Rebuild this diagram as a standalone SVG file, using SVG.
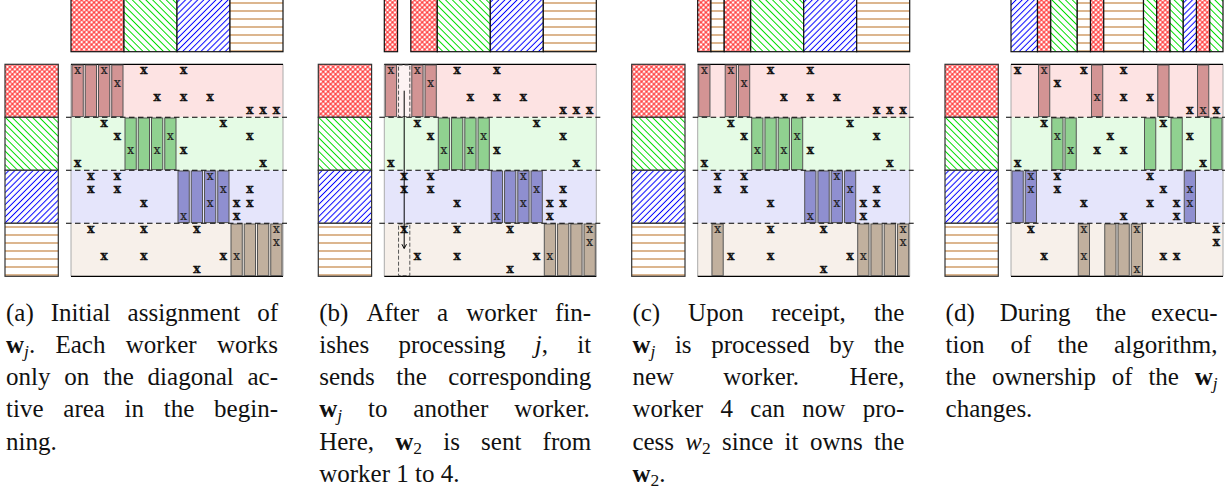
<svg xmlns="http://www.w3.org/2000/svg" width="1225" height="488" viewBox="0 0 1225 488">
<defs>
<pattern id="pR" patternUnits="userSpaceOnUse" width="3.5" height="3.5" patternTransform="rotate(45)"><rect width="3.5" height="3.5" fill="#fff"/><path d="M1.75,0V3.5M0,1.75H3.5" stroke="#ff1010" stroke-width="0.95"/></pattern>
<pattern id="pG" patternUnits="userSpaceOnUse" width="4.8" height="4.8" patternTransform="rotate(-45)"><rect width="4.8" height="4.8" fill="#fff"/><path d="M2.4,0V4.8" stroke="#00dd00" stroke-width="1"/></pattern>
<pattern id="pB" patternUnits="userSpaceOnUse" width="4.3" height="4.3" patternTransform="rotate(45)"><rect width="4.3" height="4.3" fill="#fff"/><path d="M2.15,0V4.3" stroke="#0000ff" stroke-width="1"/></pattern>
<pattern id="pO" patternUnits="userSpaceOnUse" width="8" height="8"><rect width="8" height="8" fill="#fff"/><path d="M0,3H8" stroke="#d4a373" stroke-width="1.6"/></pattern>
<style>
.tb{stroke:#111;stroke-width:1.2}
.lc{stroke:#333;stroke-width:1.2}
.hr{fill:url(#pR)}.hg{fill:url(#pG)}.hb{fill:url(#pB)}.ho{fill:url(#pO)}
.bk0{fill:#fde3e3}.bk1{fill:#e5fbe5}.bk2{fill:#e5e5fb}.bk3{fill:#f7f0ea}
.side{stroke:#aaa;stroke-width:1}
.edge{stroke:#000;stroke-width:1.2}
.br,.bg,.bb,.bo{stroke:#555;stroke-width:1}
.br{fill:#d39494}.bg{fill:#90d190}.bb{fill:#8f8fd0}.bo{fill:#c1b09e}
.dl{stroke:#000;stroke-width:1.1;stroke-dasharray:5.5 3.5;fill:none}
.xm,.xi{font-family:"DejaVu Serif",serif;font-size:12px;text-anchor:middle}
.xm{font-weight:bold;fill:#111;stroke:#111;stroke-width:0.35}
.xi{font-weight:normal;fill:#222;stroke:#222;stroke-width:0.2}
.cap{font-family:"Liberation Serif","Times New Roman",serif;font-size:25px;fill:#111}
.mv{stroke:#555;stroke-width:1;stroke-dasharray:4 2}
.arr{stroke:#000;stroke-width:1;fill:none}
</style>
</defs>
<rect width="1225" height="488" fill="#fff"/>

<!-- PANEL A -->
<g id="panel-a">
<g id="a-top">
<rect class="tb hr" x="71" y="-1" width="53" height="52.7"/>
<rect class="tb hg" x="124" y="-1" width="53" height="52.7"/>
<rect class="tb hb" x="177" y="-1" width="53" height="52.7"/>
<rect class="tb ho" x="230" y="-1" width="53" height="52.7"/>
</g>
<g id="a-left">
<rect class="lc hr" x="5" y="64.3" width="53.3" height="53"/>
<rect class="lc hg" x="5" y="117.3" width="53.3" height="53"/>
<rect class="lc hb" x="5" y="170.3" width="53.3" height="53"/>
<rect class="lc ho" x="5" y="223.3" width="53.3" height="53"/>
</g>
<g id="a-matrix">
<rect class="bk0" x="71" y="64.3" width="212" height="53"/>
<rect class="bk1" x="71" y="117.3" width="212" height="53"/>
<rect class="bk2" x="71" y="170.3" width="212" height="53"/>
<rect class="bk3" x="71" y="223.3" width="212" height="53"/>
<path class="side" d="M71,64.3V276.3M283,64.3V276.3"/>
<path class="edge" d="M71,64.3H283M71,276.3H283"/>
<rect class="br" x="72" y="65" width="11.25" height="51.6"/>
<rect class="br" x="85.25" y="65" width="11.25" height="51.6"/>
<rect class="br" x="98.5" y="65" width="11.25" height="51.6"/>
<rect class="br" x="111.75" y="65" width="11.25" height="51.6"/>
<rect class="bg" x="125" y="118" width="11.25" height="51.6"/>
<rect class="bg" x="138.25" y="118" width="11.25" height="51.6"/>
<rect class="bg" x="151.5" y="118" width="11.25" height="51.6"/>
<rect class="bg" x="164.75" y="118" width="11.25" height="51.6"/>
<rect class="bb" x="178" y="171" width="11.25" height="51.6"/>
<rect class="bb" x="191.25" y="171" width="11.25" height="51.6"/>
<rect class="bb" x="204.5" y="171" width="11.25" height="51.6"/>
<rect class="bb" x="217.75" y="171" width="11.25" height="51.6"/>
<rect class="bo" x="231" y="224" width="11.25" height="51.6"/>
<rect class="bo" x="244.25" y="224" width="11.25" height="51.6"/>
<rect class="bo" x="257.5" y="224" width="11.25" height="51.6"/>
<rect class="bo" x="270.75" y="224" width="11.25" height="51.6"/>
<path class="dl" d="M66,117.3H287M66,170.3H287M66,223.3H287"/>
<text class="xi" x="77.6" y="74.1">x</text>
<text class="xi" x="104.1" y="74.1">x</text>
<text class="xi" x="117.4" y="87.4">x</text>
<text class="xm" x="143.9" y="74.1">x</text>
<text class="xm" x="183.6" y="74.1">x</text>
<text class="xm" x="157.1" y="100.6">x</text>
<text class="xm" x="183.6" y="100.6">x</text>
<text class="xm" x="210.1" y="100.6">x</text>
<text class="xm" x="249.9" y="113.9">x</text>
<text class="xm" x="263.1" y="113.9">x</text>
<text class="xm" x="276.4" y="113.9">x</text>
<text class="xm" x="104.1" y="127.1">x</text>
<text class="xm" x="117.4" y="140.4">x</text>
<text class="xm" x="223.4" y="127.1">x</text>
<text class="xm" x="249.9" y="140.4">x</text>
<text class="xi" x="130.6" y="153.6">x</text>
<text class="xi" x="157.1" y="153.6">x</text>
<text class="xm" x="183.6" y="153.6">x</text>
<text class="xm" x="77.6" y="166.9">x</text>
<text class="xm" x="263.1" y="166.9">x</text>
<text class="xi" x="170.4" y="140.4">x</text>
<text class="xm" x="90.9" y="180.1">x</text>
<text class="xm" x="117.4" y="180.1">x</text>
<text class="xm" x="90.9" y="193.4">x</text>
<text class="xm" x="117.4" y="193.4">x</text>
<text class="xm" x="143.9" y="206.6">x</text>
<text class="xi" x="210.1" y="180.1">x</text>
<text class="xi" x="223.4" y="193.4">x</text>
<text class="xi" x="210.1" y="206.6">x</text>
<text class="xm" x="236.6" y="206.6">x</text>
<text class="xm" x="249.9" y="206.6">x</text>
<text class="xm" x="249.9" y="193.4">x</text>
<text class="xi" x="183.6" y="219.9">x</text>
<text class="xm" x="236.6" y="219.9">x</text>
<text class="xm" x="90.9" y="233.1">x</text>
<text class="xm" x="143.9" y="233.1">x</text>
<text class="xm" x="196.9" y="233.1">x</text>
<text class="xi" x="276.4" y="233.1">x</text>
<text class="xi" x="276.4" y="246.4">x</text>
<text class="xm" x="104.1" y="259.6">x</text>
<text class="xm" x="143.9" y="259.6">x</text>
<text class="xm" x="223.4" y="259.6">x</text>
<text class="xi" x="236.6" y="259.6">x</text>
<text class="xm" x="196.9" y="272.9">x</text>
</g>
</g>

<!-- PANEL B -->
<g id="panel-b" transform="translate(313.3,0)">
<g id="b-top">
<rect class="tb hr" x="71" y="-1" width="13.25" height="52.7"/>
<rect class="tb hr" x="97.5" y="-1" width="26.5" height="52.7"/>
<rect class="tb hg" x="124" y="-1" width="53" height="52.7"/>
<rect class="tb hb" x="177" y="-1" width="53" height="52.7"/>
<rect class="tb ho" x="230" y="-1" width="53" height="52.7"/>
</g>
<g id="b-left">
<rect class="lc hr" x="5" y="64.3" width="53.3" height="53"/>
<rect class="lc hg" x="5" y="117.3" width="53.3" height="53"/>
<rect class="lc hb" x="5" y="170.3" width="53.3" height="53"/>
<rect class="lc ho" x="5" y="223.3" width="53.3" height="53"/>
</g>
<g id="b-matrix">
<rect class="bk0" x="71" y="64.3" width="212" height="53"/>
<rect class="bk1" x="71" y="117.3" width="212" height="53"/>
<rect class="bk2" x="71" y="170.3" width="212" height="53"/>
<rect class="bk3" x="71" y="223.3" width="212" height="53"/>
<path class="side" d="M71,64.3V276.3M283,64.3V276.3"/>
<path class="edge" d="M71,64.3H283M71,276.3H283"/>
<rect class="br" x="72" y="65" width="11.25" height="51.6"/>
<rect class="mv" x="85.25" y="65" width="11.25" height="51.6" fill="#fdf3f3"/>
<rect class="br" x="98.5" y="65" width="11.25" height="51.6"/>
<rect class="br" x="111.75" y="65" width="11.25" height="51.6"/>
<rect class="bg" x="125" y="118" width="11.25" height="51.6"/>
<rect class="bg" x="138.25" y="118" width="11.25" height="51.6"/>
<rect class="bg" x="151.5" y="118" width="11.25" height="51.6"/>
<rect class="bg" x="164.75" y="118" width="11.25" height="51.6"/>
<rect class="bb" x="178" y="171" width="11.25" height="51.6"/>
<rect class="bb" x="191.25" y="171" width="11.25" height="51.6"/>
<rect class="bb" x="204.5" y="171" width="11.25" height="51.6"/>
<rect class="bb" x="217.75" y="171" width="11.25" height="51.6"/>
<rect class="mv" x="85.25" y="224" width="11.25" height="51.6" fill="none"/>
<rect class="bo" x="231" y="224" width="11.25" height="51.6"/>
<rect class="bo" x="244.25" y="224" width="11.25" height="51.6"/>
<rect class="bo" x="257.5" y="224" width="11.25" height="51.6"/>
<rect class="bo" x="270.75" y="224" width="11.25" height="51.6"/>
<path class="dl" d="M66,117.3H287M66,170.3H287M66,223.3H287"/>
<text class="xi" x="77.6" y="74.1">x</text>
<text class="xi" x="104.1" y="74.1">x</text>
<text class="xi" x="117.4" y="87.4">x</text>
<text class="xm" x="143.9" y="74.1">x</text>
<text class="xm" x="183.6" y="74.1">x</text>
<text class="xm" x="157.1" y="100.6">x</text>
<text class="xm" x="183.6" y="100.6">x</text>
<text class="xm" x="210.1" y="100.6">x</text>
<text class="xm" x="249.9" y="113.9">x</text>
<text class="xm" x="263.1" y="113.9">x</text>
<text class="xm" x="276.4" y="113.9">x</text>
<text class="xm" x="104.1" y="127.1">x</text>
<text class="xm" x="117.4" y="140.4">x</text>
<text class="xm" x="223.4" y="127.1">x</text>
<text class="xm" x="249.9" y="140.4">x</text>
<text class="xi" x="130.6" y="153.6">x</text>
<text class="xi" x="157.1" y="153.6">x</text>
<text class="xm" x="183.6" y="153.6">x</text>
<text class="xm" x="77.6" y="166.9">x</text>
<text class="xm" x="263.1" y="166.9">x</text>
<text class="xi" x="170.4" y="140.4">x</text>
<text class="xm" x="90.9" y="180.1">x</text>
<text class="xm" x="117.4" y="180.1">x</text>
<text class="xm" x="90.9" y="193.4">x</text>
<text class="xm" x="117.4" y="193.4">x</text>
<text class="xm" x="143.9" y="206.6">x</text>
<text class="xi" x="210.1" y="180.1">x</text>
<text class="xi" x="223.4" y="193.4">x</text>
<text class="xi" x="210.1" y="206.6">x</text>
<text class="xm" x="236.6" y="206.6">x</text>
<text class="xm" x="249.9" y="206.6">x</text>
<text class="xm" x="249.9" y="193.4">x</text>
<text class="xi" x="183.6" y="219.9">x</text>
<text class="xm" x="236.6" y="219.9">x</text>
<text class="xm" x="90.9" y="233.1">x</text>
<text class="xm" x="143.9" y="233.1">x</text>
<text class="xm" x="196.9" y="233.1">x</text>
<text class="xi" x="276.4" y="233.1">x</text>
<text class="xi" x="276.4" y="246.4">x</text>
<text class="xm" x="104.1" y="259.6">x</text>
<text class="xm" x="143.9" y="259.6">x</text>
<text class="xm" x="223.4" y="259.6">x</text>
<text class="xi" x="236.6" y="259.6">x</text>
<text class="xm" x="196.9" y="272.9">x</text>
</g>
</g>

<!-- PANEL C -->
<g id="panel-c" transform="translate(626.7,0)">
<g id="c-top">
<rect class="tb hr" x="71" y="-1" width="13.25" height="52.7"/>
<rect class="tb ho" x="84.25" y="-1" width="13.25" height="52.7"/>
<rect class="tb hr" x="97.5" y="-1" width="26.5" height="52.7"/>
<rect class="tb hg" x="124" y="-1" width="53" height="52.7"/>
<rect class="tb hb" x="177" y="-1" width="53" height="52.7"/>
<rect class="tb ho" x="230" y="-1" width="53" height="52.7"/>
</g>
<g id="c-left">
<rect class="lc hr" x="5" y="64.3" width="53.3" height="53"/>
<rect class="lc hg" x="5" y="117.3" width="53.3" height="53"/>
<rect class="lc hb" x="5" y="170.3" width="53.3" height="53"/>
<rect class="lc ho" x="5" y="223.3" width="53.3" height="53"/>
</g>
<g id="c-matrix">
<rect class="bk0" x="71" y="64.3" width="212" height="53"/>
<rect class="bk1" x="71" y="117.3" width="212" height="53"/>
<rect class="bk2" x="71" y="170.3" width="212" height="53"/>
<rect class="bk3" x="71" y="223.3" width="212" height="53"/>
<path class="side" d="M71,64.3V276.3M283,64.3V276.3"/>
<path class="edge" d="M71,64.3H283M71,276.3H283"/>
<rect class="br" x="72" y="65" width="11.25" height="51.6"/>
<rect class="br" x="98.5" y="65" width="11.25" height="51.6"/>
<rect class="br" x="111.75" y="65" width="11.25" height="51.6"/>
<rect class="bg" x="125" y="118" width="11.25" height="51.6"/>
<rect class="bg" x="138.25" y="118" width="11.25" height="51.6"/>
<rect class="bg" x="151.5" y="118" width="11.25" height="51.6"/>
<rect class="bg" x="164.75" y="118" width="11.25" height="51.6"/>
<rect class="bb" x="178" y="171" width="11.25" height="51.6"/>
<rect class="bb" x="191.25" y="171" width="11.25" height="51.6"/>
<rect class="bb" x="204.5" y="171" width="11.25" height="51.6"/>
<rect class="bb" x="217.75" y="171" width="11.25" height="51.6"/>
<rect class="bo" x="85.25" y="224" width="11.25" height="51.6"/>
<rect class="bo" x="231" y="224" width="11.25" height="51.6"/>
<rect class="bo" x="244.25" y="224" width="11.25" height="51.6"/>
<rect class="bo" x="257.5" y="224" width="11.25" height="51.6"/>
<rect class="bo" x="270.75" y="224" width="11.25" height="51.6"/>
<path class="dl" d="M66,117.3H287M66,170.3H287M66,223.3H287"/>
<text class="xi" x="77.6" y="74.1">x</text>
<text class="xi" x="104.1" y="74.1">x</text>
<text class="xi" x="117.4" y="87.4">x</text>
<text class="xm" x="143.9" y="74.1">x</text>
<text class="xm" x="183.6" y="74.1">x</text>
<text class="xm" x="157.1" y="100.6">x</text>
<text class="xm" x="183.6" y="100.6">x</text>
<text class="xm" x="210.1" y="100.6">x</text>
<text class="xm" x="249.9" y="113.9">x</text>
<text class="xm" x="263.1" y="113.9">x</text>
<text class="xm" x="276.4" y="113.9">x</text>
<text class="xm" x="104.1" y="127.1">x</text>
<text class="xm" x="117.4" y="140.4">x</text>
<text class="xm" x="223.4" y="127.1">x</text>
<text class="xm" x="249.9" y="140.4">x</text>
<text class="xi" x="130.6" y="153.6">x</text>
<text class="xi" x="157.1" y="153.6">x</text>
<text class="xm" x="183.6" y="153.6">x</text>
<text class="xm" x="77.6" y="166.9">x</text>
<text class="xm" x="263.1" y="166.9">x</text>
<text class="xi" x="170.4" y="140.4">x</text>
<text class="xm" x="90.9" y="180.1">x</text>
<text class="xm" x="117.4" y="180.1">x</text>
<text class="xm" x="90.9" y="193.4">x</text>
<text class="xm" x="117.4" y="193.4">x</text>
<text class="xm" x="143.9" y="206.6">x</text>
<text class="xi" x="210.1" y="180.1">x</text>
<text class="xi" x="223.4" y="193.4">x</text>
<text class="xi" x="210.1" y="206.6">x</text>
<text class="xm" x="236.6" y="206.6">x</text>
<text class="xm" x="249.9" y="206.6">x</text>
<text class="xm" x="249.9" y="193.4">x</text>
<text class="xi" x="183.6" y="219.9">x</text>
<text class="xm" x="236.6" y="219.9">x</text>
<text class="xi" x="90.9" y="233.1">x</text>
<text class="xm" x="143.9" y="233.1">x</text>
<text class="xm" x="196.9" y="233.1">x</text>
<text class="xi" x="276.4" y="233.1">x</text>
<text class="xi" x="276.4" y="246.4">x</text>
<text class="xm" x="104.1" y="259.6">x</text>
<text class="xm" x="143.9" y="259.6">x</text>
<text class="xm" x="223.4" y="259.6">x</text>
<text class="xi" x="236.6" y="259.6">x</text>
<text class="xm" x="196.9" y="272.9">x</text>
</g>
</g>

<!-- PANEL D -->
<g id="panel-d" transform="translate(940,0)">
<g id="d-top">
<rect class="tb hb" x="71" y="-1" width="26.5" height="52.7"/>
<rect class="tb hr" x="97.5" y="-1" width="13.25" height="52.7"/>
<rect class="tb hg" x="110.75" y="-1" width="26.5" height="52.7"/>
<rect class="tb ho" x="137.25" y="-1" width="13.25" height="52.7"/>
<rect class="tb hr" x="150.5" y="-1" width="13.25" height="52.7"/>
<rect class="tb ho" x="163.75" y="-1" width="39.75" height="52.7"/>
<rect class="tb hg" x="203.5" y="-1" width="13.25" height="52.7"/>
<rect class="tb hr" x="216.75" y="-1" width="13.25" height="52.7"/>
<rect class="tb hg" x="230" y="-1" width="13.25" height="52.7"/>
<rect class="tb hb" x="243.25" y="-1" width="13.25" height="52.7"/>
<rect class="tb hr" x="256.5" y="-1" width="13.25" height="52.7"/>
<rect class="tb hg" x="269.75" y="-1" width="13.25" height="52.7"/>
</g>
<g id="d-left">
<rect class="lc hr" x="5" y="64.3" width="53.3" height="53"/>
<rect class="lc hg" x="5" y="117.3" width="53.3" height="53"/>
<rect class="lc hb" x="5" y="170.3" width="53.3" height="53"/>
<rect class="lc ho" x="5" y="223.3" width="53.3" height="53"/>
</g>
<g id="d-matrix">
<rect class="bk0" x="71" y="64.3" width="212" height="53"/>
<rect class="bk1" x="71" y="117.3" width="212" height="53"/>
<rect class="bk2" x="71" y="170.3" width="212" height="53"/>
<rect class="bk3" x="71" y="223.3" width="212" height="53"/>
<path class="side" d="M71,64.3V276.3M283,64.3V276.3"/>
<path class="edge" d="M71,64.3H283M71,276.3H283"/>
<rect class="br" x="98.5" y="65" width="11.25" height="51.6"/>
<rect class="br" x="151.5" y="65" width="11.25" height="51.6"/>
<rect class="br" x="217.75" y="65" width="11.25" height="51.6"/>
<rect class="br" x="257.5" y="65" width="11.25" height="51.6"/>
<rect class="bg" x="111.75" y="118" width="11.25" height="51.6"/>
<rect class="bg" x="125" y="118" width="11.25" height="51.6"/>
<rect class="bg" x="204.5" y="118" width="11.25" height="51.6"/>
<rect class="bg" x="231" y="118" width="11.25" height="51.6"/>
<rect class="bg" x="270.75" y="118" width="11.25" height="51.6"/>
<rect class="bb" x="72" y="171" width="11.25" height="51.6"/>
<rect class="bb" x="85.25" y="171" width="11.25" height="51.6"/>
<rect class="bb" x="244.25" y="171" width="11.25" height="51.6"/>
<rect class="bo" x="138.25" y="224" width="11.25" height="51.6"/>
<rect class="bo" x="164.75" y="224" width="11.25" height="51.6"/>
<rect class="bo" x="178" y="224" width="11.25" height="51.6"/>
<rect class="bo" x="191.25" y="224" width="11.25" height="51.6"/>
<path class="dl" d="M66,117.3H287M66,170.3H287M66,223.3H287"/>
<text class="xm" x="77.6" y="74.1">x</text>
<text class="xi" x="104.1" y="74.1">x</text>
<text class="xm" x="117.4" y="87.4">x</text>
<text class="xm" x="143.9" y="74.1">x</text>
<text class="xm" x="183.6" y="74.1">x</text>
<text class="xi" x="157.1" y="100.6">x</text>
<text class="xm" x="183.6" y="100.6">x</text>
<text class="xm" x="210.1" y="100.6">x</text>
<text class="xm" x="249.9" y="113.9">x</text>
<text class="xi" x="263.1" y="113.9">x</text>
<text class="xm" x="276.4" y="113.9">x</text>
<text class="xm" x="104.1" y="127.1">x</text>
<text class="xi" x="117.4" y="140.4">x</text>
<text class="xm" x="223.4" y="127.1">x</text>
<text class="xm" x="249.9" y="140.4">x</text>
<text class="xi" x="130.6" y="153.6">x</text>
<text class="xm" x="157.1" y="153.6">x</text>
<text class="xm" x="183.6" y="153.6">x</text>
<text class="xm" x="77.6" y="166.9">x</text>
<text class="xm" x="263.1" y="166.9">x</text>
<text class="xm" x="170.4" y="140.4">x</text>
<text class="xi" x="90.9" y="180.1">x</text>
<text class="xm" x="117.4" y="180.1">x</text>
<text class="xi" x="90.9" y="193.4">x</text>
<text class="xm" x="117.4" y="193.4">x</text>
<text class="xm" x="143.9" y="206.6">x</text>
<text class="xm" x="210.1" y="180.1">x</text>
<text class="xm" x="223.4" y="193.4">x</text>
<text class="xm" x="210.1" y="206.6">x</text>
<text class="xm" x="236.6" y="206.6">x</text>
<text class="xi" x="249.9" y="206.6">x</text>
<text class="xi" x="249.9" y="193.4">x</text>
<text class="xm" x="183.6" y="219.9">x</text>
<text class="xm" x="236.6" y="219.9">x</text>
<text class="xm" x="90.9" y="233.1">x</text>
<text class="xi" x="143.9" y="233.1">x</text>
<text class="xi" x="196.9" y="233.1">x</text>
<text class="xm" x="276.4" y="233.1">x</text>
<text class="xm" x="276.4" y="246.4">x</text>
<text class="xm" x="104.1" y="259.6">x</text>
<text class="xi" x="143.9" y="259.6">x</text>
<text class="xm" x="223.4" y="259.6">x</text>
<text class="xm" x="236.6" y="259.6">x</text>
<text class="xi" x="196.9" y="272.9">x</text>
</g>
</g>

<g id="connectors">
<path class="arr" d="M404.2,90.7V248.3"/>
<path class="arr" d="M401.9,244.2L404.2,248.5L406.5,244.2"/>
</g>

<g id="captions">
<g id="caption-a">
<text class="cap" y="320.7"><tspan x="6">(a)</tspan> <tspan x="50.8">Initial</tspan> <tspan x="127.6">assignment</tspan> <tspan x="257.2">of</tspan></text>
<text class="cap" y="352.9"><tspan x="6" font-weight="bold">w</tspan><tspan font-style="italic" font-size="17.5" dy="4">j</tspan><tspan dy="-4">.</tspan> <tspan x="55.5">Each</tspan> <tspan x="125.8">worker</tspan> <tspan x="216.9">works</tspan></text>
<text class="cap" y="385.1"><tspan x="6">only</tspan> <tspan x="64.3">on</tspan> <tspan x="103.2">the</tspan> <tspan x="147.6">diagonal</tspan> <tspan x="247.5">ac-</tspan></text>
<text class="cap" y="417.3"><tspan x="6">tive</tspan> <tspan x="63.3">area</tspan> <tspan x="124.6">in</tspan> <tspan x="163.8">the</tspan> <tspan x="214.1">begin-</tspan></text>
<text class="cap" x="6" y="449.5">ning.</text>
</g>
<g id="caption-b">
<text class="cap" y="320.7"><tspan x="319.2">(b)</tspan> <tspan x="366.4">After</tspan> <tspan x="437.1">a</tspan> <tspan x="466.2">worker</tspan> <tspan x="555">fin-</tspan></text>
<text class="cap" y="352.9"><tspan x="319.2">ishes</tspan> <tspan x="398.5">processing</tspan> <tspan x="534.7" font-style="italic">j</tspan>, <tspan x="577.2">it</tspan></text>
<text class="cap" y="385.1"><tspan x="319.2">sends</tspan> <tspan x="396.2">the</tspan> <tspan x="448.2">corresponding</tspan></text>
<text class="cap" y="417.3"><tspan x="319.2" font-weight="bold">w</tspan><tspan font-style="italic" font-size="17.5" dy="4">j</tspan> <tspan x="368" dy="-4">to</tspan> <tspan x="413.3">another</tspan> <tspan x="514.2">worker.</tspan></text>
<text class="cap" y="449.5"><tspan x="319.2">Here,</tspan> <tspan x="395.2" font-weight="bold">w</tspan><tspan font-size="17.5" dy="4">2</tspan> <tspan x="443.2" dy="-4">is</tspan> <tspan x="481.1">sent</tspan> <tspan x="542.6">from</tspan></text>
<text class="cap" x="319.2" y="481.7">worker 1 to 4.</text>
</g>
<g id="caption-c">
<text class="cap" y="320.7"><tspan x="632.4">(c)</tspan> <tspan x="688.1">Upon</tspan> <tspan x="771.6">receipt,</tspan> <tspan x="873.9">the</tspan></text>
<text class="cap" y="352.9"><tspan x="632.4" font-weight="bold">w</tspan><tspan font-style="italic" font-size="17.5" dy="4">j</tspan> <tspan x="674.9" dy="-4">is</tspan> <tspan x="711.2">processed</tspan> <tspan x="829.3">by</tspan> <tspan x="873.9">the</tspan></text>
<text class="cap" y="385.1"><tspan x="632.4">new</tspan> <tspan x="723.3">worker.</tspan> <tspan x="849.6">Here,</tspan></text>
<text class="cap" y="417.3"><tspan x="632.4">worker</tspan> <tspan x="720.5">4</tspan> <tspan x="750.3">can</tspan> <tspan x="802.3">now</tspan> <tspan x="862.7">pro-</tspan></text>
<text class="cap" y="449.5"><tspan x="632.4">cess</tspan> <tspan x="685.3" font-style="italic">w</tspan><tspan font-size="17.5" dy="4">2</tspan> <tspan x="722" dy="-4">since</tspan> <tspan x="784.6">it</tspan> <tspan x="809.9">owns</tspan> <tspan x="873.9">the</tspan></text>
<text class="cap" y="481.7"><tspan x="632.4" font-weight="bold">w</tspan><tspan font-size="17.5" dy="4">2</tspan><tspan dy="-4">.</tspan></text>
</g>
<g id="caption-d">
<text class="cap" y="320.7"><tspan x="945.6">(d)</tspan> <tspan x="999.7">During</tspan> <tspan x="1095.5">the</tspan> <tspan x="1151">execu-</tspan></text>
<text class="cap" y="352.9"><tspan x="945.6">tion</tspan> <tspan x="1010.6">of</tspan> <tspan x="1057.5">the</tspan> <tspan x="1114.1">algorithm,</tspan></text>
<text class="cap" y="385.1"><tspan x="945.6">the</tspan> <tspan x="991.9">ownership</tspan> <tspan x="1111.8">of</tspan> <tspan x="1148.4">the</tspan> <tspan x="1194.7" font-weight="bold">w</tspan><tspan font-style="italic" font-size="17.5" dy="4">j</tspan></text>
<text class="cap" x="945.6" y="417.3">changes.</text>
</g>
</g>
</svg>
